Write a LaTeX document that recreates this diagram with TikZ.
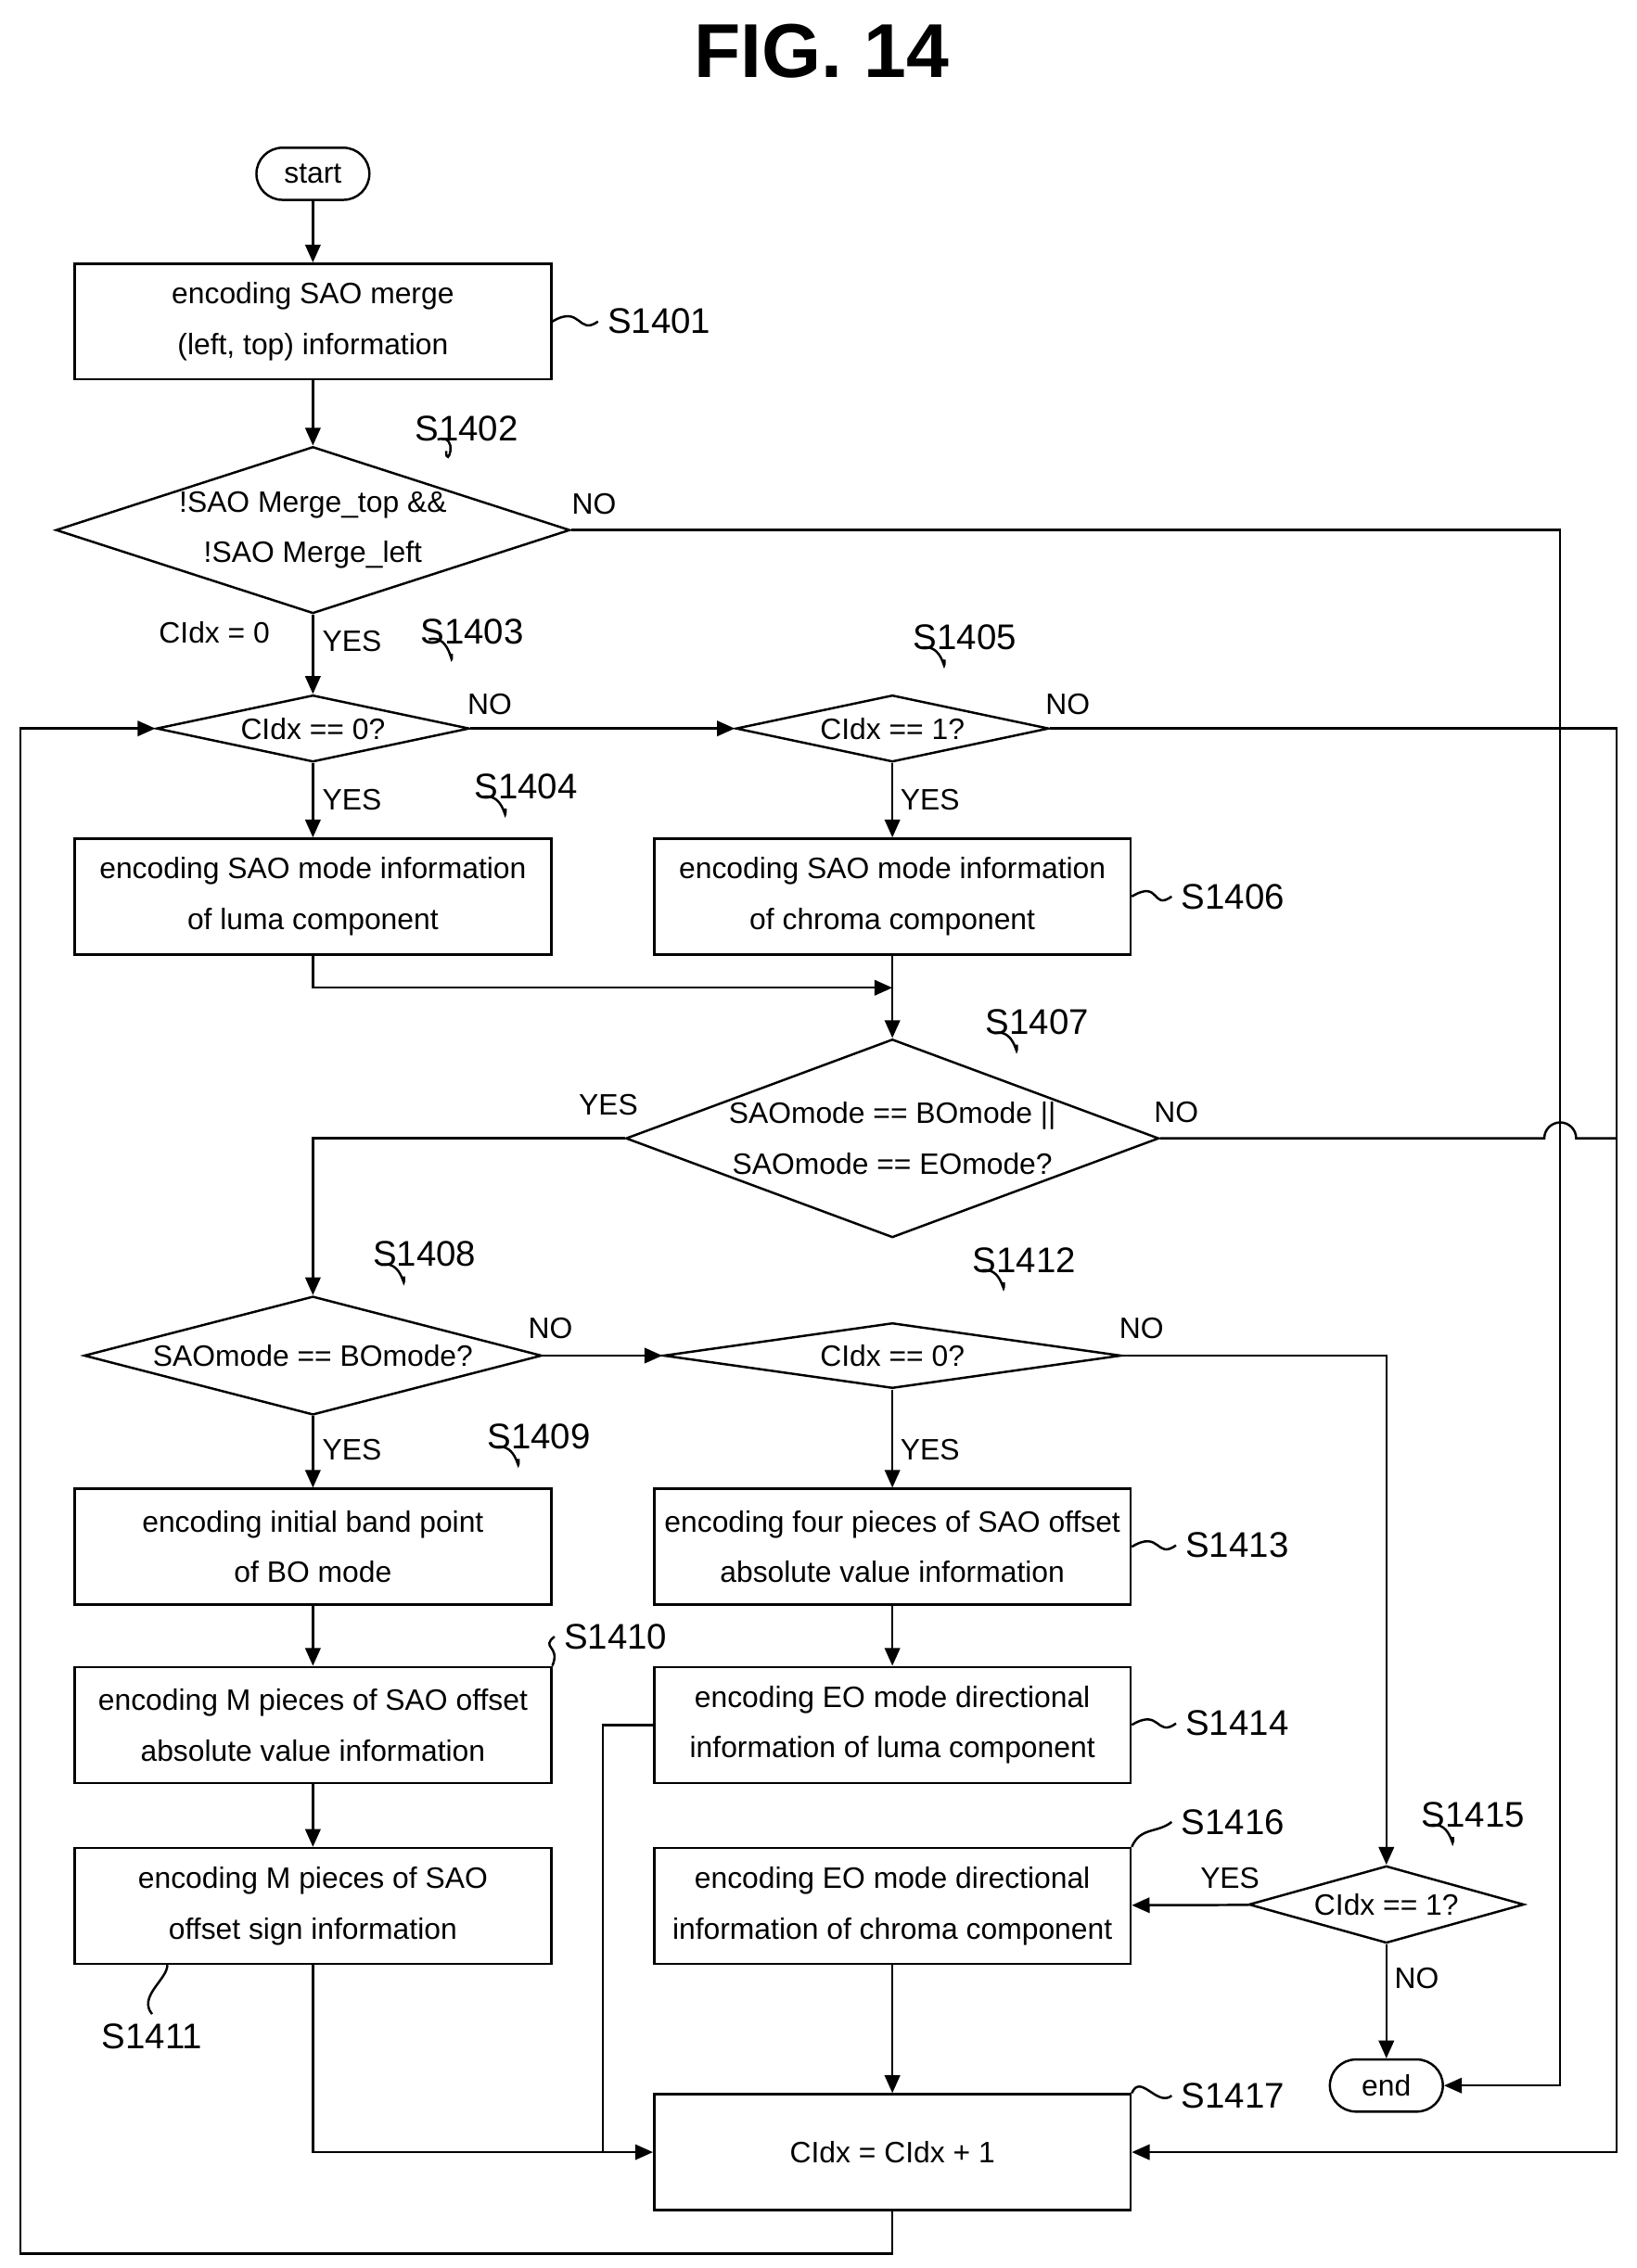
\documentclass[tikz,border=0pt]{standalone}
\usepackage{fontspec}
\setmainfont{Liberation Sans}
\usetikzlibrary{shapes.geometric,arrows.meta}
\newcommand\stepfont{\fontsize{11.6}{20}\selectfont}

\begin{document}
\begin{tikzpicture}[
			x=0.02cm, y=-0.02cm,
			box/.style={draw,rectangle,minimum width=6.58cm,minimum height=1.6cm,align=center,inner sep=1pt,font=\stepfont},
			dec/.style={draw,diamond,inner sep=0pt,align=center,font=\stepfont},
			term/.style={draw,rounded corners=0.36cm,minimum width=1.56cm,minimum height=0.72cm,font=\stepfont},
			tag/.style={font=\fontsize{14}{16}\selectfont},
			lbl/.style={font=\stepfont},
			line width=0.9pt, >={Triangle[length=7pt,width=6pt]}
		]
		\useasboundingbox (0,0) rectangle (1130,1566);
		\node [font=\bfseries\fontsize{30}{34}\selectfont] (title) at (567,35) {FIG. 14};

		\node [term] (start) at (216,120) {start};
		\node [box] (b1401) at (216,222) {encoding SAO merge\\(left, top) information};
		\node [dec,aspect=3,minimum width=7.1cm] (d1402) at (216,366) {!SAO Merge\_top \&\&\\!SAO Merge\_left};
		\node [dec,aspect=3.2,minimum width=4.32cm] (d1403) at (216,503) {CIdx == 0?};
		\node [dec,aspect=3.2,minimum width=4.32cm] (d1405) at (616,503) {CIdx == 1?};
		\node [box] (b1404) at (216,619) {encoding SAO mode information\\of luma component};
		\node [box] (b1406) at (616,619) {encoding SAO mode information\\of chroma component};
		\node [dec,aspect=2.6,minimum width=7.36cm] (d1407) at (616,786) {SAOmode == BOmode ||\\SAOmode == EOmode?};
		\node [dec,aspect=3.3,minimum width=6.32cm] (d1408) at (216,936) {SAOmode == BOmode?};
		\node [dec,aspect=3.3,minimum width=6.32cm] (d1412) at (616,936) {CIdx == 0?};
		\node [box] (b1409) at (216,1068) {encoding initial band point\\of BO mode};
		\node [box] (b1413) at (616,1068) {encoding four pieces of SAO offset\\absolute value information};
		\node [box] (b1410) at (216,1191) {encoding M pieces of SAO offset\\absolute value information};
		\node [box] (b1414) at (616,1191) {encoding EO mode directional\\information of luma component};
		\node [box] (b1411) at (216,1316) {encoding M pieces of SAO\\offset sign information};
		\node [box] (b1416) at (616,1316) {encoding EO mode directional\\information of chroma component};
		\node [dec,aspect=2.6,minimum width=3.8cm] (d1415) at (957,1315) {CIdx == 1?};
		\node [box] (b1417) at (616,1486) {CIdx = CIdx + 1};
		\node [term] (end) at (957,1440) {end};

		% step labels
		\node [tag] (l1401) at (455,222) {S1401};
		\node [tag] (l1402) at (322,296) {S1402};
		\node [tag] (l1403) at (326,436) {S1403};
		\node [tag] (l1404) at (363,543) {S1404};
		\node [tag] (l1405) at (666,440) {S1405};
		\node [tag] (l1406) at (851,619) {S1406};
		\node [tag] (l1407) at (716,706) {S1407};
		\node [tag] (l1408) at (293,866) {S1408};
		\node [tag] (l1409) at (372,992) {S1409};
		\node [tag] (l1410) at (425,1130) {S1410};
		\node [tag] (l1411) at (105,1406) {S1411};
		\node [tag] (l1412) at (707,870) {S1412};
		\node [tag] (l1413) at (854,1067) {S1413};
		\node [tag] (l1414) at (854,1190) {S1414};
		\node [tag] (l1415) at (1017,1253) {S1415};
		\node [tag] (l1416) at (851,1258) {S1416};
		\node [tag] (l1417) at (851,1447) {S1417};

		\draw (b1401.east) .. controls +(20,-12) and +(-14,10) .. (l1401.west);
		\draw (b1406.east) .. controls +(20,-12) and +(-14,10) .. (l1406.west);
		\draw (b1413.east) .. controls +(20,-12) and +(-14,10) .. (l1413.west);
		\draw (b1414.east) .. controls +(20,-12) and +(-14,10) .. (l1414.west);
		\draw (b1417.north east) .. controls +(6,-14) and +(-10,8) .. (l1417.west);
		\draw (b1416.north east) .. controls +(6,-14) and +(-10,8) .. (l1416.west);
		\draw (b1410.north east) .. controls +(6,-14) and +(-10,8) .. (l1410.west);
		\draw ([xshift=-8]l1402.south) .. controls +(0,14) and +(16,-4) .. ([shift={(-20,-8)}]l1402.south);
		\draw ([xshift=-8]l1403.south) .. controls +(0,14) and +(16,-4) .. ([shift={(-30,-10)}]l1403.south);
		\draw ([xshift=-8]l1404.south) .. controls +(0,14) and +(16,-4) .. ([shift={(-30,-8)}]l1404.south);
		\draw ([xshift=-8]l1405.south) .. controls +(0,14) and +(16,-4) .. ([shift={(-30,-8)}]l1405.south);
		\draw ([xshift=-8]l1407.south) .. controls +(0,14) and +(16,-4) .. ([shift={(-30,-8)}]l1407.south);
		\draw ([xshift=-8]l1408.south) .. controls +(0,14) and +(16,-4) .. ([shift={(-30,-8)}]l1408.south);
		\draw ([xshift=-8]l1409.south) .. controls +(0,14) and +(16,-4) .. ([shift={(-30,-8)}]l1409.south);
		\draw ([xshift=-8]l1412.south) .. controls +(0,14) and +(16,-4) .. ([shift={(-30,-8)}]l1412.south);
		\draw ([xshift=-8]l1415.south) .. controls +(0,14) and +(16,-4) .. ([shift={(-30,-8)}]l1415.south);
		\draw (l1411.north) .. controls +(-10,-12) and +(0,10) .. ([xshift=6]b1411.south west -| l1411.north);

		% yes / no labels
		\node [lbl] (n1402) at (410,348) {NO};
		\node [lbl] (c0) at (148,437) {CIdx = 0};
		\node [lbl] (y1402) at (243,443) {YES};
		\node [lbl] (n1403) at (338,486) {NO};
		\node [lbl] (n1405) at (737,486) {NO};
		\node [lbl] (y1403) at (243,552) {YES};
		\node [lbl] (y1405) at (642,552) {YES};
		\node [lbl] (y1407) at (420,763) {YES};
		\node [lbl] (n1407) at (812,768) {NO};
		\node [lbl] (n1408) at (380,917) {NO};
		\node [lbl] (n1412) at (788,917) {NO};
		\node [lbl] (y1408) at (243,1001) {YES};
		\node [lbl] (y1412) at (642,1001) {YES};
		\node [lbl] (y1415) at (849,1297) {YES};
		\node [lbl] (n1415) at (978,1366) {NO};

		% connectors
		\draw[->] (start) -- (b1401);
		\draw[->] (b1401) -- (d1402);
		\draw[->] (d1402) -- (d1403);
		\draw[->] (d1402.east) -- (1077,366) |- (end.east);
		\draw[->] (d1403) -- (d1405);
		\draw[->] (d1403) -- (b1404);
		\draw[->] (d1405) -- (b1406);
		\draw[->] (d1405.east) -- (1116,503) |- (b1417.east);
		\draw[->] (b1404.south) |- (616,682);
		\draw[->] (b1406) -- (d1407);
		\draw[->] (d1407.west) -| (d1408.north);
		\draw (d1407.east) -- (1066,786) arc (180:360:11) -- (1116,786);
		\draw[->] (d1408) -- (d1412);
		\draw[->] (d1408) -- (b1409);
		\draw[->] (d1412) -- (b1413);
		\draw[->] (d1412.east) -| (d1415.north);
		\draw[->] (b1409) -- (b1410);
		\draw[->] (b1410) -- (b1411);
		\draw[->] (b1413) -- (b1414);
		\draw (b1414.west) -| (416,1486);
		\draw[->] (b1411.south) |- (b1417.west);
		\draw[->] (d1415) -- (b1416);
		\draw[->] (d1415) -- (end);
		\draw[->] (b1416) -- (b1417);
		\draw[->] (b1417.south) |- (14,1556) |- (d1403.west);
	\end{tikzpicture}
\end{document}
